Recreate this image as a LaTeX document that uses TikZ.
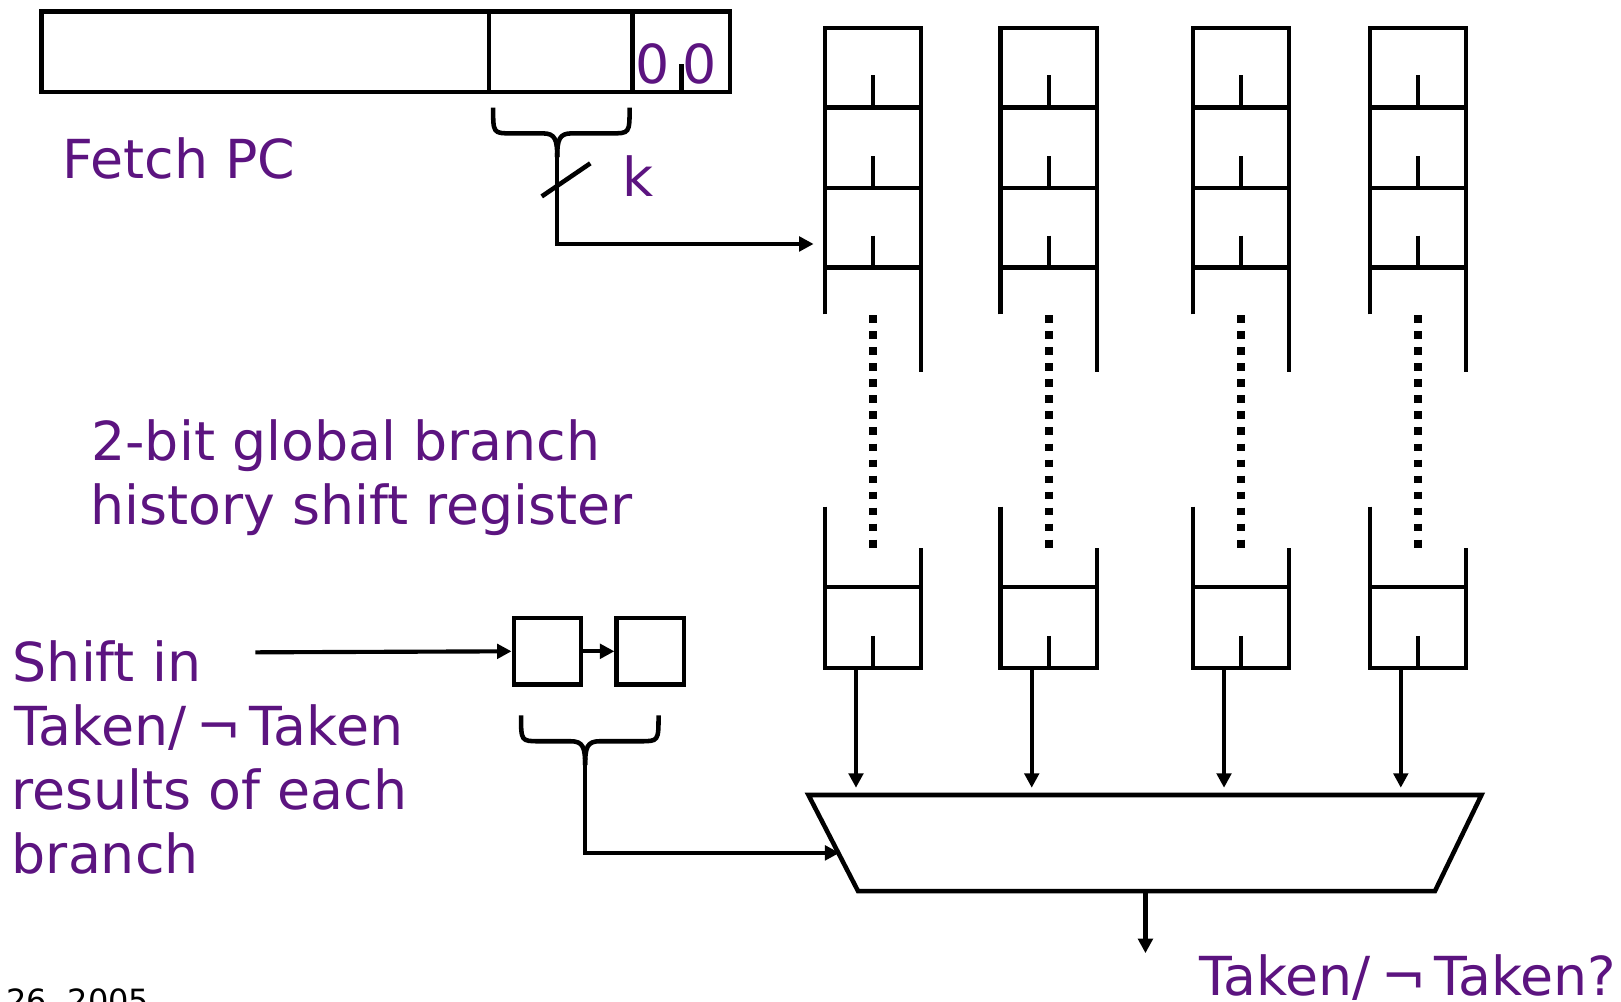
\documentclass[tikz,border=0pt]{standalone}
\usepackage{fontspec}
\setmainfont{DejaVu Sans}
\usetikzlibrary{arrows.meta}
\definecolor{txtpurple}{RGB}{92,20,128}
\newcommand{\notsym}{\hspace{5pt}¬\hspace{4pt}}
\tikzset{
  wire/.style={line width=2.2pt, line join=miter},
  arr/.style={line width=2pt, -{Triangle[length=7pt,width=7pt]}},
  dotline/.style={line width=3.8pt, dash pattern=on 3.8pt off 3.95pt},
  lbl/.style={text=txtpurple, font=\fontsize{26}{31}\selectfont, inner sep=0pt, anchor=base west},
  regbox/.style={draw, line width=2.2pt, minimum width=32.5pt, minimum height=32pt, inner sep=0pt},
}
\begin{document}
\begin{tikzpicture}[x=0.5pt,y=-0.5pt]
\useasboundingbox (0,0) rectangle (1568,969);

% Fetch PC register
\draw[wire] (40,11) rectangle (706,89);
\draw[wire] (473,11) -- (473,89);
\draw[wire] (612,11) -- (612,89);
\draw[wire] (659,62) -- (659,89);
\node[lbl] (zeroA) at (614,81) {0};
\node[lbl] (zeroB) at (660,81) {0};
\node[lbl] (fetch) at (60,173) {Fetch PC};

% brace under PC index bits
\coordinate (pcbr) at (539,152);
\draw[wire] (477,104) .. controls (477,129) and (477,129) .. (495,129) -- (525,129) .. controls (537,129) and (539,135) .. (pcbr);
\draw[wire] (609,104) .. controls (609,129) and (609,129) .. (591,129) -- (553,129) .. controls (541,129) and (539,135) .. (pcbr);
\coordinate (tblin) at (787,236);
\draw[arr] (pcbr) -- (539,236) -- (tblin);
\draw[wire] (524,190) -- (571,158);
\node[lbl] (kbits) at (602,190) {k};

% pattern history tables
\foreach \L/\n in {798/a,968/b,1154/c,1325/d}{
  \pgfmathsetmacro\R{\L+93}
  \pgfmathsetmacro\C{\L+46.5}
  \draw[wire] (\L,304) -- (\L,27) -- (\R,27) -- (\R,360);
  \foreach \y in {104,182,259}{
    \draw[wire] (\L,\y) -- (\R,\y);
    \draw[wire] (\C,\y-31) -- (\C,\y);
  }
  \draw[dotline] (\C,305) -- (\C,530);
  \draw[wire] (\L,490) -- (\L,646) -- (\R,646) -- (\R,530);
  \draw[wire] (\L,568) -- (\R,568);
  \draw[wire] (\C,615) -- (\C,646);
  \coordinate (out\n) at (\L+30,646);
  \coordinate (in\n) at (\L+30,762);
  \draw[arr] (out\n) -- (in\n);
}

% multiplexer
\draw[wire] (782,769) -- (1433,769) -- (1388,862) -- (830,862) -- cycle;
\coordinate (muxout) at (1108,862);
\coordinate (result) at (1108,922);
\draw[arr] (muxout) -- (result);
\node[lbl] (taken) at (1160,962.5) {Taken/\notsym Taken?};

% global history
\node[lbl] (gh1) at (88,445) {2-bit global branch};
\node[lbl] (gh2) at (87,507) {history shift register};

\node[regbox] (h1) at (529.5,630) {};
\node[regbox] (h2) at (629,630) {};
\coordinate (shin) at (247,631);
\draw[arr] (shin) -- (h1.west);
\draw[arr] (h1.east) -- (h2.west);

\coordinate (ghbr) at (566,740);
\draw[wire] (504,692) .. controls (504,717) and (504,717) .. (522,717) -- (552,717) .. controls (564,717) and (566,723) .. (ghbr);
\draw[wire] (637,692) .. controls (637,717) and (637,717) .. (619,717) -- (580,717) .. controls (568,717) and (566,723) .. (ghbr);
\coordinate (muxin) at (812,825);
\draw[arr] (ghbr) -- (566,825) -- (muxin);

\node[lbl] (s1) at (12,659) {Shift in};
\node[lbl] (s2) at (14,721) {Taken/\notsym Taken};
\node[lbl] (s3) at (11,783) {results of each};
\node[lbl] (s4) at (11,845) {branch};

\node[inner sep=0pt, anchor=base west, font=\fontsize{15.5}{18}\selectfont] (date) at (6,979) {26, 2005};
\end{tikzpicture}
\end{document}
